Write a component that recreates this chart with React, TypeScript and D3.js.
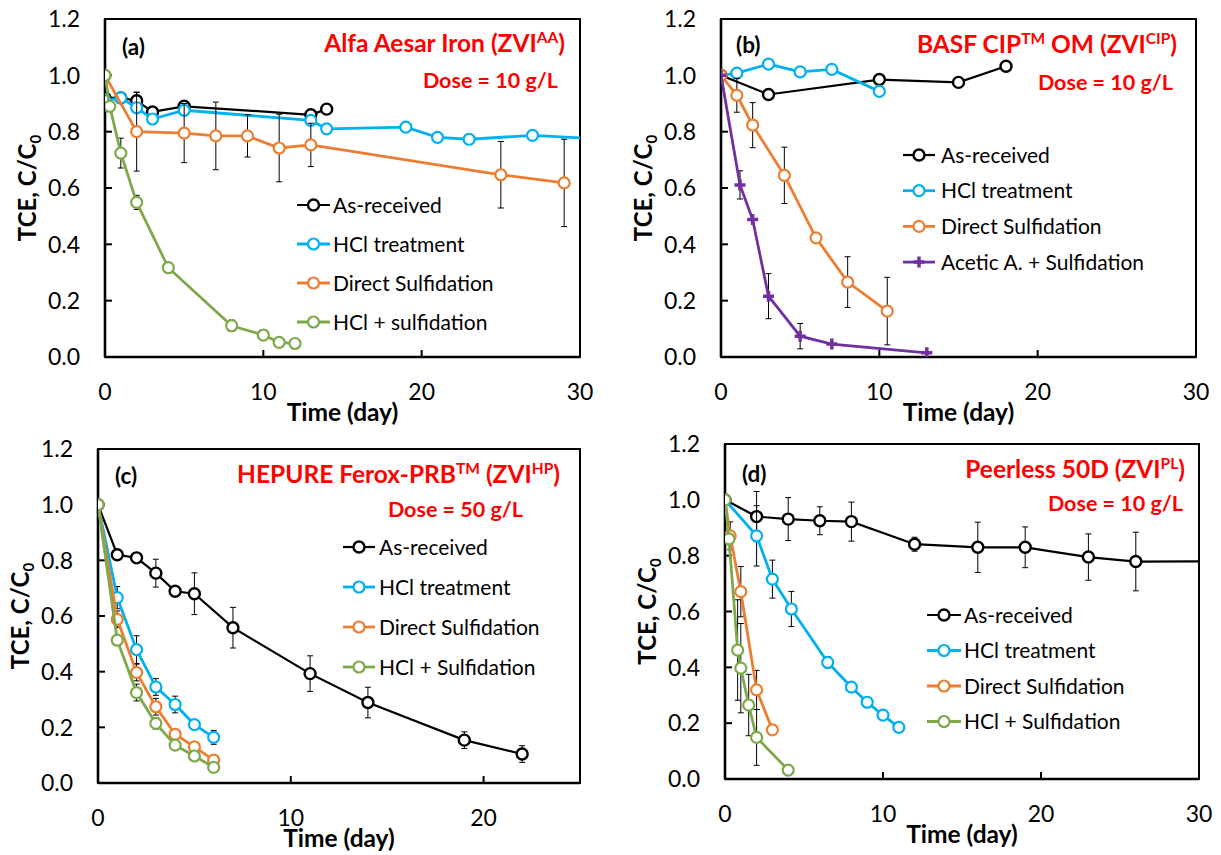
import * as d3 from "d3";

const W = 1221;
const H = 855;
const FONT = "Lato, 'Open Sans', sans-serif";

// ---- shared ticks ----
const yTicks = [0, 0.2, 0.4, 0.6, 0.8, 1.0, 1.2];
const xTicks30 = [0, 10, 20, 30];
const xTicks25 = [0, 10, 20];

// ---- panel (a) Alfa Aesar Iron ----
const aAsT = [0, 1, 2, 3, 5, 13, 14];
const aAsV = [0.92, 0.92, 0.91, 0.87, 0.89, 0.86, 0.88];
const aAsE = [0, 0, 0.03, 0, 0, 0, 0];
const aHclT = [0, 1, 2, 3, 5, 13, 14, 19, 21, 23, 27, 31];
const aHclV = [0.91, 0.92, 0.885, 0.845, 0.876, 0.84, 0.81, 0.816, 0.78, 0.773, 0.787, 0.775];
const aHclE = [0, 0, 0, 0, 0, 0, 0, 0, 0, 0, 0, 0];
const aDsT = [0, 2, 5, 7, 9, 11, 13, 25, 29];
const aDsV = [1.0, 0.8, 0.795, 0.785, 0.785, 0.742, 0.753, 0.647, 0.618];
const aDsE = [0, 0.14, 0.105, 0.12, 0.075, 0.12, 0.077, 0.118, 0.155];
const aHsT = [0, 0.3, 1, 2, 4, 8, 10, 11, 12];
const aHsV = [1.0, 0.89, 0.724, 0.549, 0.317, 0.111, 0.078, 0.052, 0.048];
const aHsE = [0, 0, 0.053, 0.025, 0, 0.02, 0, 0, 0];

// ---- panel (b) BASF CIP OM ----
const bAsT = [0, 3, 10, 15, 18];
const bAsV = [1.0, 0.932, 0.985, 0.975, 1.032];
const bAsE = [0, 0, 0, 0, 0];
const bHclT = [0, 1, 3, 5, 7, 10];
const bHclV = [1.0, 1.008, 1.04, 1.012, 1.021, 0.943];
const bHclE = [0, 0, 0, 0, 0, 0];
const bDsT = [0, 1, 2, 4, 6, 8, 10.5];
const bDsV = [1.0, 0.929, 0.823, 0.645, 0.423, 0.266, 0.163];
const bDsE = [0, 0.06, 0.08, 0.1, 0, 0.09, 0.12];
const bAcT = [0, 1.2, 2, 3, 5, 7, 13];
const bAcV = [1.0, 0.611, 0.488, 0.216, 0.074, 0.046, 0.015];
const bAcE = [0, 0.05, 0, 0.08, 0.045, 0, 0];

// ---- panel (c) HEPURE Ferox-PRB ----
const cAsT = [0, 1, 2, 3, 4, 5, 7, 11, 14, 19, 22];
const cAsV = [1.0, 0.82, 0.809, 0.754, 0.689, 0.68, 0.558, 0.393, 0.289, 0.154, 0.104];
const cAsE = [0, 0, 0, 0.05, 0, 0.075, 0.073, 0.064, 0.055, 0.03, 0.03];
const cHclT = [0, 1, 2, 3, 4, 5, 6];
const cHclV = [1.0, 0.666, 0.479, 0.345, 0.282, 0.21, 0.164];
const cHclE = [0, 0.04, 0.05, 0.03, 0.03, 0, 0.025];
const cDsT = [0, 1, 2, 3, 4, 5, 6];
const cDsV = [1.0, 0.588, 0.397, 0.274, 0.175, 0.13, 0.082];
const cDsE = [0, 0.03, 0.03, 0.03, 0, 0, 0];
const cHsT = [0, 1, 2, 3, 4, 5, 6];
const cHsV = [1.0, 0.513, 0.325, 0.214, 0.136, 0.097, 0.056];
const cHsE = [0, 0, 0.03, 0.02, 0, 0, 0];

// ---- panel (d) Peerless 50D ----
const dAsT = [0, 2, 4, 6, 8, 12, 16, 19, 23, 26, 31];
const dAsV = [1.0, 0.94, 0.931, 0.925, 0.922, 0.841, 0.83, 0.83, 0.795, 0.779, 0.78];
const dAsE = [0, 0.09, 0.077, 0.05, 0.07, 0.025, 0.09, 0.073, 0.083, 0.105, 0];
const dHclT = [0, 2, 3, 4.2, 6.5, 8, 9, 10, 11];
const dHclV = [1.0, 0.871, 0.716, 0.609, 0.418, 0.329, 0.275, 0.229, 0.185];
const dHclE = [0, 0.108, 0.068, 0.063, 0.02, 0, 0, 0, 0];
const dDsT = [0, 0.33, 1, 2, 3];
const dDsV = [1.0, 0.871, 0.671, 0.319, 0.176];
const dDsE = [0, 0.05, 0.09, 0.07, 0];
const dHsT = [0, 0.25, 0.8, 1, 1.5, 2, 4];
const dHsV = [1.0, 0.86, 0.462, 0.397, 0.265, 0.149, 0.032];
const dHsE = [0, 0, 0.18, 0.16, 0.11, 0.1, 0];

const BLACK = "#000000";
const BLUE = "#00B0F0";
const ORANGE = "#ED7D31";
const GREEN = "#7EA94B";
const PURPLE = "#7030A0";
const RED = "#FF0000";

type Series = {
  name: string;
  t: number[];
  v: number[];
  e: number[];
  color: string;
  marker: "circle" | "plus";
};

const mk = (name, t, v, e, color, marker = "circle"): Series => ({ name, t, v, e, color, marker });

const panels = [
  {
    id: "a",
    box: { left: 105, right: 580, top: 19, bottom: 357 },
    xMax: 30,
    xTicks: xTicks30,
    yTitleX: 36,
    label: { x: 122, y: 55 },
    title: { text: "Alfa Aesar Iron (ZVI", sup: "AA", tail: ")", x: 565, y: 52 },
    dose: { text: "Dose = 10 g/L", x: 558, y: 88 },
    legend: { x1: 297, x2: 330, tx: 333, y0: 205, dy: 39 },
    series: [
      mk("As-received", aAsT, aAsV, aAsE, BLACK),
      mk("HCl treatment", aHclT, aHclV, aHclE, BLUE),
      mk("Direct Sulfidation", aDsT, aDsV, aDsE, ORANGE),
      mk("HCl + sulfidation", aHsT, aHsV, aHsE, GREEN),
    ],
  },
  {
    id: "b",
    box: { left: 721, right: 1196, top: 19, bottom: 357 },
    xMax: 30,
    xTicks: xTicks30,
    yTitleX: 652,
    label: { x: 736, y: 53 },
    title: { text: "BASF CIP", sup: "TM", mid: " OM (ZVI", sup2: "CIP", tail: ")", x: 1177, y: 53 },
    dose: { text: "Dose = 10 g/L", x: 1173, y: 90 },
    legend: { x1: 903, x2: 935, tx: 941, y0: 155, dy: 35.7 },
    series: [
      mk("As-received", bAsT, bAsV, bAsE, BLACK),
      mk("HCl treatment", bHclT, bHclV, bHclE, BLUE),
      mk("Direct Sulfidation", bDsT, bDsV, bDsE, ORANGE),
      mk("Acetic A. + Sulfidation", bAcT, bAcV, bAcE, PURPLE, "plus"),
    ],
  },
  {
    id: "c",
    box: { left: 98, right: 580, top: 449, bottom: 783 },
    xMax: 25,
    xTicks: xTicks25,
    yTitleX: 29,
    label: { x: 115, y: 484 },
    title: { text: "HEPURE Ferox-PRB", sup: "TM", mid: " (ZVI", sup2: "HP", tail: ")", x: 560, y: 483 },
    dose: { text: "Dose = 50 g/L", x: 523, y: 517 },
    legend: { x1: 343, x2: 375, tx: 379, y0: 547, dy: 40 },
    series: [
      mk("As-received", cAsT, cAsV, cAsE, BLACK),
      mk("HCl treatment", cHclT, cHclV, cHclE, BLUE),
      mk("Direct Sulfidation", cDsT, cDsV, cDsE, ORANGE),
      mk("HCl + Sulfidation", cHsT, cHsV, cHsE, GREEN),
    ],
  },
  {
    id: "d",
    box: { left: 725, right: 1199, top: 444, bottom: 779 },
    xMax: 30,
    xTicks: xTicks30,
    yTitleX: 656,
    label: { x: 742, y: 482 },
    title: { text: "Peerless 50D (ZVI", sup: "PL", tail: ")", x: 1185, y: 478 },
    dose: { text: "Dose = 10 g/L", x: 1183, y: 511 },
    legend: { x1: 927, x2: 961, tx: 964, y0: 615, dy: 35.5 },
    series: [
      mk("As-received", dAsT, dAsV, dAsE, BLACK),
      mk("HCl treatment", dHclT, dHclV, dHclE, BLUE),
      mk("Direct Sulfidation", dDsT, dDsV, dDsE, ORANGE),
      mk("HCl + Sulfidation", dHsT, dHsV, dHsE, GREEN),
    ],
  },
];

const Marker = ({ x, y, s }: { x: number; y: number; s: Series }) =>
  s.marker === "plus" ? (
    <path d={`M${x - 5.5},${y}H${x + 5.5}M${x},${y - 5.5}V${y + 5.5}`} stroke={s.color} strokeWidth={3.5} />
  ) : (
    <circle cx={x} cy={y} r={5.5} fill="#fff" stroke={s.color} strokeWidth={s.color === BLACK ? 2.4 : 2.2} />
  );

const Panel = ({ p }) => {
  const { box } = p;
  const x = d3.scaleLinear().domain([0, p.xMax]).range([box.left, box.right]);
  const y = d3.scaleLinear().domain([0, 1.2]).range([box.bottom, box.top]);
  const pathFor = (s: Series) =>
    d3
      .line<number>()
      .x((t) => x(t))
      .y((_, i) => y(s.v[i]))(s.t);
  const clipId = `clip-${p.id}`;
  const fmt = d3.format(".1f");
  const cx = (box.left + box.right) / 2;
  const cy = (box.top + box.bottom) / 2;

  return (
    <g fontFamily={FONT}>
      <defs>
        <clipPath id={clipId}>
          <rect x={box.left} y={box.top} width={box.right - box.left} height={box.bottom - box.top} />
        </clipPath>
      </defs>

      {/* frame */}
      <rect
        x={box.left}
        y={box.top}
        width={box.right - box.left}
        height={box.bottom - box.top}
        fill="none"
        stroke="#000"
        strokeWidth={2}
      />
      <line x1={box.left} x2={box.left} y1={box.top} y2={box.bottom} stroke="#000" strokeWidth={2.6} />
      <line x1={box.left} x2={box.right} y1={box.bottom} y2={box.bottom} stroke="#000" strokeWidth={2.6} />

      {/* y ticks */}
      {yTicks.map((t) => (
        <g key={`y${t}`}>
          <line x1={box.left} x2={box.left + 7} y1={y(t)} y2={y(t)} stroke="#000" strokeWidth={2} />
          <text x={box.left - 25} y={y(t)} dy="0.36em" textAnchor="end" fontSize={23}>
            {fmt(t)}
          </text>
        </g>
      ))}
      {/* x ticks */}
      {p.xTicks.map((t) => (
        <g key={`x${t}`}>
          <line x1={x(t)} x2={x(t)} y1={box.bottom} y2={box.bottom - 7} stroke="#000" strokeWidth={2} />
          <text x={x(t)} y={box.bottom + 43} textAnchor="middle" fontSize={23}>
            {t}
          </text>
        </g>
      ))}

      {/* axis titles */}
      <text x={cx} y={box.bottom + 64} textAnchor="middle" fontSize={24.5} fontWeight="bold">
        Time (day)
      </text>
      <text transform={`translate(${p.yTitleX},${cy}) rotate(-90)`} textAnchor="middle" fontSize={24} fontWeight="bold">
        TCE, C/C
        <tspan dy={5} fontSize={15}>
          0
        </tspan>
      </text>

      {/* data */}
      <g clipPath={`url(#${clipId})`}>
        {p.series.map((s: Series) => (
          <g key={s.name}>
            {s.t.map((t, i) =>
              s.e[i] > 0 ? (
                <g key={i} stroke="#000" strokeWidth={1}>
                  <line x1={x(t)} x2={x(t)} y1={y(s.v[i] - s.e[i])} y2={y(s.v[i] + s.e[i])} />
                  <line x1={x(t) - 3} x2={x(t) + 3} y1={y(s.v[i] - s.e[i])} y2={y(s.v[i] - s.e[i])} />
                  <line x1={x(t) - 3} x2={x(t) + 3} y1={y(s.v[i] + s.e[i])} y2={y(s.v[i] + s.e[i])} />
                </g>
              ) : null
            )}
            <path d={pathFor(s) || ""} fill="none" stroke={s.color} strokeWidth={s.color === BLACK ? 2.2 : 2.8} />
            {s.t.map((t, i) => (
              <Marker key={i} x={x(t)} y={y(s.v[i])} s={s} />
            ))}
          </g>
        ))}
      </g>

      {/* legend */}
      {p.series.map((s: Series, i: number) => {
        const ly = p.legend.y0 + i * p.legend.dy;
        const mx = (p.legend.x1 + p.legend.x2) / 2;
        return (
          <g key={`lg${i}`}>
            <line
              x1={p.legend.x1}
              x2={p.legend.x2}
              y1={ly}
              y2={ly}
              stroke={s.color}
              strokeWidth={s.color === BLACK ? 2.2 : 2.8}
            />
            <Marker x={mx} y={ly} s={s} />
            <text x={p.legend.tx} y={ly} dy="0.36em" fontSize={21}>
              {s.name}
            </text>
          </g>
        );
      })}

      {/* labels */}
      <text x={p.label.x} y={p.label.y} fontSize={22.5} fontWeight="bold">
        ({p.id})
      </text>
      <text x={p.title.x} y={p.title.y} textAnchor="end" fontSize={24.5} fontWeight="bold" fill={RED}>
        {p.title.text}
        <tspan dy={-9} fontSize={15.5}>
          {p.title.sup}
        </tspan>
        {p.title.mid ? (
          <>
            <tspan dy={9}>{p.title.mid}</tspan>
            <tspan dy={-9} fontSize={15.5}>
              {p.title.sup2}
            </tspan>
          </>
        ) : null}
        <tspan dy={9}>{p.title.tail}</tspan>
      </text>
      <text x={p.dose.x} y={p.dose.y} textAnchor="end" fontSize={21.5} fontWeight="bold" fill={RED}>
        {p.dose.text}
      </text>
    </g>
  );
};

export default function App() {
  return (
    <svg
      width={W}
      height={H}
      viewBox={`0 0 ${W} ${H}`}
      style={{ position: "absolute", left: 0, top: 0, background: "#fff" }}
    >
      <rect width={W} height={H} fill="#fff" />
      {panels.map((p) => (
        <Panel key={p.id} p={p} />
      ))}
    </svg>
  );
}
